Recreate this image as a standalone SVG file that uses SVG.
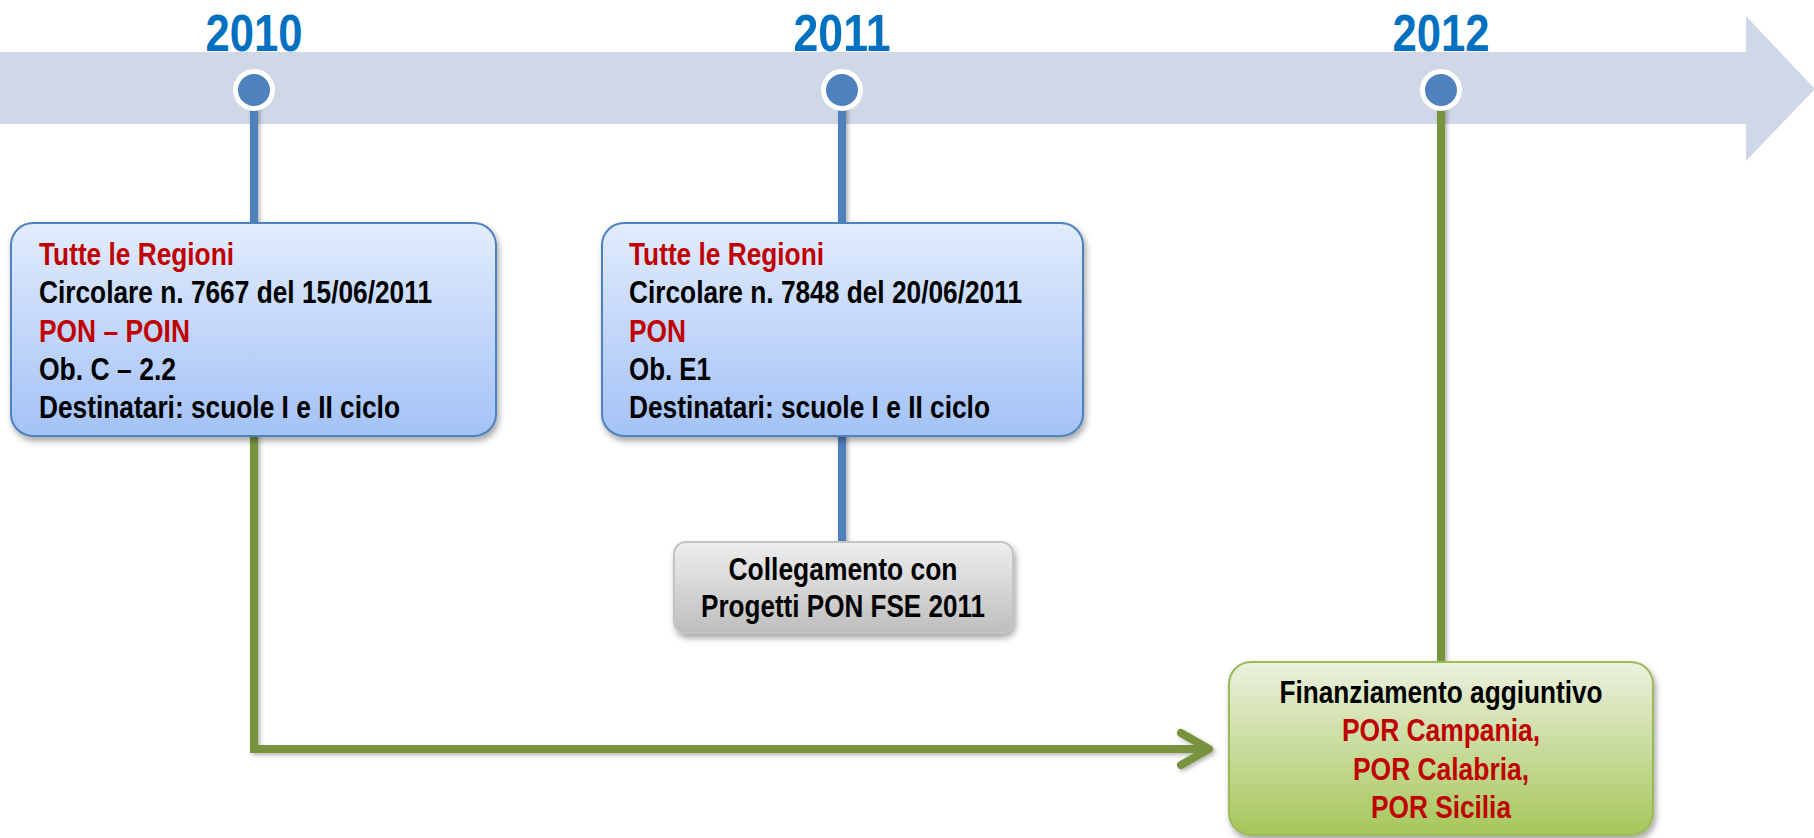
<svg xmlns="http://www.w3.org/2000/svg" width="1814" height="838" viewBox="0 0 1814 838">
<style>
  text { font-family: "Liberation Sans Narrow", "Liberation Sans", Arial, sans-serif; font-weight: bold; }
  .year { font-size: 52px; fill: #0070C0; text-anchor: middle; }
  .t { font-size: 31px; fill: #000000; }
  .red { fill: #C00000; }
  .mid { text-anchor: middle; }
  .dot { fill: #4F81BD; stroke: #FFFFFF; stroke-width: 5; }
  .blue { stroke: #4F81BD; stroke-width: 8; fill: none; }
  .green { stroke: #77933C; stroke-width: 8; fill: none; }
</style>
<defs>
  <linearGradient id="gBlue" x1="0" y1="0" x2="0" y2="1">
    <stop offset="0" stop-color="#E2ECFD"/>
    <stop offset="1" stop-color="#A3C2F6"/>
  </linearGradient>
  <linearGradient id="gGray" x1="0" y1="0" x2="0" y2="1">
    <stop offset="0" stop-color="#EEEEEE"/>
    <stop offset="1" stop-color="#BEBEBE"/>
  </linearGradient>
  <linearGradient id="gGreen" x1="0" y1="0" x2="0" y2="1">
    <stop offset="0" stop-color="#EBF1DE"/>
    <stop offset="1" stop-color="#A6C65A"/>
  </linearGradient>
  <filter id="sh" x="-10%" y="-10%" width="130%" height="140%">
    <feDropShadow dx="2" dy="4" stdDeviation="3" flood-color="#000000" flood-opacity="0.35"/>
  </filter>
  <filter id="lsh" filterUnits="userSpaceOnUse" x="0" y="0" width="1814" height="838">
    <feDropShadow dx="2" dy="2" stdDeviation="2" flood-color="#000000" flood-opacity="0.3"/>
  </filter>
  <marker id="chev" markerUnits="userSpaceOnUse" markerWidth="60" markerHeight="60" viewBox="-40 -30 60 60" refX="0" refY="0" orient="auto" overflow="visible">
    <path d="M-28,-16 L0,0 L-28,16" fill="none" stroke="#77933C" stroke-width="8" stroke-linecap="round" stroke-linejoin="round"/>
  </marker>
</defs>
<rect width="1814" height="838" fill="#FFFFFF"/>

<g id="timeline">
  <polygon points="0,52 1746,52 1746,16 1814,88 1814,90 1746,161 1746,124 0,124" fill="#D0D8E8"/>
</g>

<g id="connectors" filter="url(#lsh)">
  <line class="blue" x1="254" y1="100" x2="254" y2="224"/>
  <line class="blue" x1="842" y1="100" x2="842" y2="224"/>
  <line class="blue" x1="842" y1="434" x2="842" y2="543"/>
  <line class="green" x1="1441" y1="100" x2="1441" y2="663"/>
  <path class="green" d="M254,434 L254,749 L1209,749" stroke-linejoin="miter" marker-end="url(#chev)"/>
</g>

<g id="year-2010">
  <text class="year" x="254" y="51" textLength="97" lengthAdjust="spacingAndGlyphs">2010</text>
  <circle class="dot" cx="254" cy="90" r="18.5"/>
</g>
<g id="year-2011">
  <text class="year" x="842" y="51" textLength="97" lengthAdjust="spacingAndGlyphs">2011</text>
  <circle class="dot" cx="842" cy="90" r="18.5"/>
</g>
<g id="year-2012">
  <text class="year" x="1441" y="51" textLength="97" lengthAdjust="spacingAndGlyphs">2012</text>
  <circle class="dot" cx="1441" cy="90" r="18.5"/>
</g>

<g id="box-2010">
  <rect x="11" y="223" width="485" height="213" rx="22" fill="url(#gBlue)" stroke="#4F81BD" stroke-width="2" filter="url(#sh)"/>
  <text class="t red" x="39" y="265" textLength="195" lengthAdjust="spacingAndGlyphs">Tutte le Regioni</text>
  <text class="t" x="39" y="303" textLength="393" lengthAdjust="spacingAndGlyphs">Circolare n. 7667 del 15/06/2011</text>
  <text class="t red" x="39" y="342" textLength="151" lengthAdjust="spacingAndGlyphs">PON – POIN</text>
  <text class="t" x="39" y="380" textLength="137" lengthAdjust="spacingAndGlyphs">Ob. C – 2.2</text>
  <text class="t" x="39" y="418" textLength="361" lengthAdjust="spacingAndGlyphs">Destinatari: scuole I e II ciclo</text>
</g>

<g id="box-2011">
  <rect x="602" y="223" width="481" height="213" rx="22" fill="url(#gBlue)" stroke="#4F81BD" stroke-width="2" filter="url(#sh)"/>
  <text class="t red" x="629" y="265" textLength="195" lengthAdjust="spacingAndGlyphs">Tutte le Regioni</text>
  <text class="t" x="629" y="303" textLength="393" lengthAdjust="spacingAndGlyphs">Circolare n. 7848 del 20/06/2011</text>
  <text class="t red" x="629" y="342" textLength="57" lengthAdjust="spacingAndGlyphs">PON</text>
  <text class="t" x="629" y="380" textLength="82" lengthAdjust="spacingAndGlyphs">Ob. E1</text>
  <text class="t" x="629" y="418" textLength="361" lengthAdjust="spacingAndGlyphs">Destinatari: scuole I e II ciclo</text>
</g>

<g id="box-collegamento">
  <rect x="674" y="542" width="339" height="91" rx="12" fill="url(#gGray)" stroke="#C4C4C4" stroke-width="2" filter="url(#sh)"/>
  <text class="t mid" x="843" y="580" textLength="229" lengthAdjust="spacingAndGlyphs">Collegamento con</text>
  <text class="t mid" x="843" y="617" textLength="284" lengthAdjust="spacingAndGlyphs">Progetti PON FSE 2011</text>
</g>

<g id="box-2012">
  <rect x="1229" y="662" width="424" height="173" rx="22" fill="url(#gGreen)" stroke="#9BBB59" stroke-width="2" filter="url(#sh)"/>
  <text class="t mid" x="1441" y="703" textLength="323" lengthAdjust="spacingAndGlyphs">Finanziamento aggiuntivo</text>
  <text class="t mid red" x="1441" y="741" textLength="198" lengthAdjust="spacingAndGlyphs">POR Campania,</text>
  <text class="t mid red" x="1441" y="780" textLength="176" lengthAdjust="spacingAndGlyphs">POR Calabria,</text>
  <text class="t mid red" x="1441" y="818" textLength="140" lengthAdjust="spacingAndGlyphs">POR Sicilia</text>
</g>
</svg>
